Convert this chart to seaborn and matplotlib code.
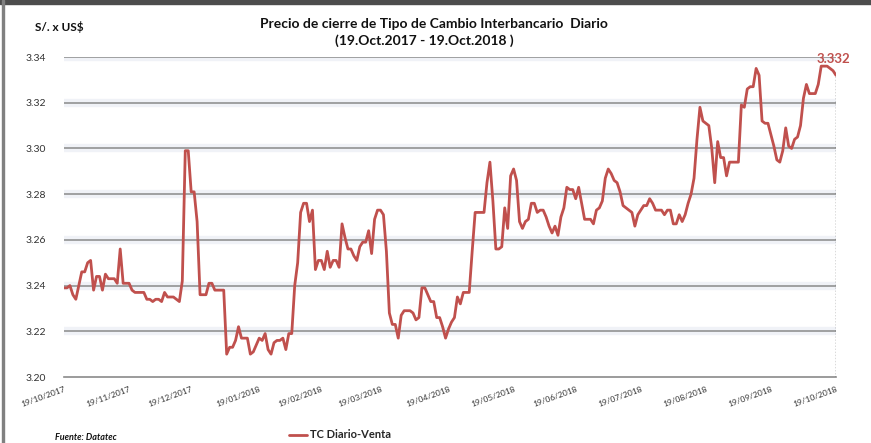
import numpy as np
import pandas as pd
import matplotlib
matplotlib.use("Agg")
import matplotlib.pyplot as plt
import seaborn as sns
from matplotlib.patches import Rectangle

# ---------------- data ----------------
dates = pd.bdate_range("2017-10-19", "2018-10-19")
tc_venta = [
    3.239, 3.239, 3.240, 3.236, 3.234, 3.240, 3.246, 3.246, 3.250, 3.251,
    3.238, 3.244, 3.244, 3.238, 3.245, 3.243, 3.243, 3.243, 3.241, 3.256,
    3.241, 3.241, 3.241, 3.238, 3.237, 3.237, 3.237, 3.237, 3.234, 3.234,
    3.233, 3.234, 3.234, 3.233, 3.237, 3.235, 3.235, 3.235, 3.234, 3.233,
    3.242, 3.299, 3.299, 3.281, 3.281, 3.268, 3.236, 3.236, 3.236, 3.241,
    3.241, 3.238, 3.238, 3.238, 3.238, 3.210, 3.213, 3.213, 3.216, 3.222,
    3.217, 3.217, 3.217, 3.210, 3.211, 3.214, 3.217, 3.216, 3.219, 3.212,
    3.210, 3.215, 3.216, 3.216, 3.217, 3.212, 3.219, 3.219, 3.240, 3.250,
    3.272, 3.276, 3.276, 3.268, 3.273, 3.247, 3.251, 3.251, 3.247, 3.255,
    3.248, 3.251, 3.251, 3.248, 3.267, 3.261, 3.256, 3.256, 3.253, 3.251,
    3.257, 3.259, 3.259, 3.264, 3.254, 3.269, 3.273, 3.273, 3.271, 3.255,
    3.228, 3.223, 3.223, 3.217, 3.227, 3.229, 3.229, 3.229, 3.228, 3.225,
    3.226, 3.239, 3.239, 3.236, 3.233, 3.233, 3.226, 3.226, 3.222, 3.217,
    3.221, 3.224, 3.226, 3.235, 3.232, 3.237, 3.237, 3.237, 3.255, 3.272,
    3.272, 3.272, 3.272, 3.285, 3.294, 3.277, 3.256, 3.256, 3.257, 3.274,
    3.265, 3.288, 3.291, 3.286, 3.268, 3.265, 3.268, 3.269, 3.276, 3.276,
    3.272, 3.273, 3.273, 3.270, 3.266, 3.263, 3.266, 3.262, 3.270, 3.274,
    3.283, 3.282, 3.282, 3.278, 3.283, 3.276, 3.269, 3.269, 3.269, 3.267,
    3.273, 3.274, 3.277, 3.287, 3.291, 3.289, 3.286, 3.285, 3.281, 3.275,
    3.274, 3.273, 3.272, 3.266, 3.271, 3.273, 3.275, 3.275, 3.278, 3.276,
    3.273, 3.273, 3.273, 3.271, 3.273, 3.273, 3.267, 3.267, 3.271, 3.268,
    3.271, 3.276, 3.280, 3.287, 3.304, 3.318, 3.312, 3.311, 3.310, 3.300,
    3.285, 3.303, 3.296, 3.296, 3.288, 3.294, 3.294, 3.294, 3.294, 3.319,
    3.318, 3.326, 3.327, 3.327, 3.335, 3.332, 3.312, 3.311, 3.311, 3.306,
    3.301, 3.295, 3.294, 3.299, 3.309, 3.301, 3.300, 3.304, 3.305, 3.310,
    3.322, 3.328, 3.324, 3.324, 3.324, 3.328, 3.336, 3.336, 3.336, 3.335,
    3.334, 3.332,
]
y_ticks = [3.20, 3.22, 3.24, 3.26, 3.28, 3.30, 3.32, 3.34]
tick_months = pd.date_range("2017-10-01", "2018-10-01", freq="MS")
series_name = "TC Diario-Venta"
title_line1 = "Precio de cierre de Tipo de Cambio Interbancario  Diario"
title_line2 = "(19.Oct.2017 - 19.Oct.2018 )"
unit_text = "S/. x US$"
source_text = "Fuente: Datatec"

df = pd.DataFrame({"idx": np.arange(len(dates)), "fecha": dates, "valor": tc_venta})

# x tick positions: first trading day on/after the 19th of each month
tick_pos, tick_lab = [], []
for m in tick_months:
    target = m + pd.Timedelta(days=18)
    pos = int(np.searchsorted(dates.values, np.datetime64(target)))
    tick_pos.append(min(pos, len(dates) - 1))
    tick_lab.append(target.strftime("%d/%m/%Y"))

# ---------------- style ----------------
sns.set_style("white")
plt.rcParams["font.family"] = ["Lato", "DejaVu Sans"]

W, H = 871, 443
fig = plt.figure(figsize=(W / 100, H / 100), dpi=100)
ax = fig.add_axes([64 / W, 1 - 377 / H, (836 - 64) / W, (377 - 57) / H])

red = "#c0504d"

for v in y_ticks[1:]:
    ax.axhline(v, color="#f0f2f7", lw=6, zorder=1)
    ax.axhline(v, color="#8a8a8a", lw=1.1, zorder=2)

sns.lineplot(data=df, x="idx", y="valor", ax=ax, color=red, lw=2.0,
             label=series_name, zorder=4)

last_i = len(dates) - 1
last_v = tc_venta[-1]
ax.vlines(last_i, y_ticks[0], last_v, colors="#444444", linestyles=(0, (1, 1.2)),
          lw=1.0, zorder=3)
ax.text(last_i - 1, 3.3392, f"{last_v:.3f}", color=red, fontsize=9.5,
        fontweight="bold", ha="center", va="center", clip_on=False, zorder=5)

ax.set_xlim(0, last_i)
ax.set_ylim(y_ticks[0], y_ticks[-1])
ax.set_yticks(y_ticks)
ax.set_yticklabels([f"{v:.2f}" for v in y_ticks])
ax.set_xticks(tick_pos)
ax.set_xticklabels(tick_lab, rotation=20, ha="right", rotation_mode="anchor")
ax.tick_params(axis="y", length=0, pad=13, labelsize=7.5, labelcolor="#333333")
ax.tick_params(axis="x", length=4, width=0.8, color="#888888", direction="out",
               pad=2, labelsize=6, labelcolor="#333333")
ax.set_xlabel("")
ax.set_ylabel("")
for s in ["top", "right", "left"]:
    ax.spines[s].set_visible(False)
ax.spines["bottom"].set_color("#8a8a8a")
ax.spines["bottom"].set_linewidth(1.2)

leg = ax.legend(loc="center left", bbox_to_anchor=(279 / W, 1 - 435 / H),
                bbox_transform=fig.transFigure, frameon=False, handlelength=1.6,
                handletextpad=0.3, prop={"size": 8, "weight": "bold"})

fig.text(434 / W, 1 - 24 / H, title_line1, ha="center", va="center",
         fontsize=10, fontweight="bold", color="#111111")
fig.text(424 / W, 1 - 41 / H, title_line2, ha="center", va="center",
         fontsize=10, fontweight="bold", color="#111111")
fig.text(35 / W, 1 - 27 / H, unit_text, ha="left", va="center", fontsize=8.5,
         fontweight="bold", color="#111111")
fig.text(55 / W, 1 - 437 / H, source_text, ha="left", va="center", fontsize=6.5,
         fontweight="bold", style="italic", color="#111111")

# outer frame fragments
fig.patches.append(Rectangle((0, 1 - 4 / H), 1, 4 / H, transform=fig.transFigure,
                             color="#4d4d4d", zorder=10))
fig.patches.append(Rectangle((2 / W, 0), 2 / W, 1, transform=fig.transFigure,
                             color="#808080", zorder=10))

fig.savefig("out.png", dpi=100)
